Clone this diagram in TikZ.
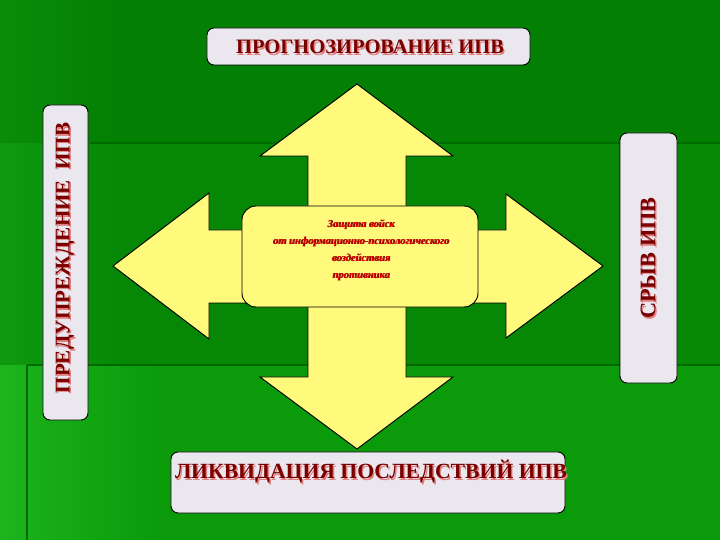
\documentclass[tikz,border=0pt]{standalone}
\usepackage{fontspec}
\setmainfont{Liberation Serif}
\definecolor{topgreen}{HTML}{037F03}
\definecolor{midgreen}{HTML}{068806}
\definecolor{lowgreen}{HTML}{0A9A0A}
\definecolor{edgegreen}{HTML}{1DB41D}
\definecolor{linegreen}{HTML}{006A00}
\definecolor{boxgray}{HTML}{EAE8EE}
\definecolor{pale}{HTML}{FFF97C}
\definecolor{darkred}{HTML}{7A0000}
\definecolor{shred}{HTML}{E08080}
\definecolor{txtred}{HTML}{D80000}
\definecolor{shdark}{HTML}{700000}
\tikzset{bx/.style = {draw=black, line width=0.8pt, fill=boxgray, rounded corners=6pt, inner sep=0pt},
         ttl/.style = {font=\fontsize{17.5}{20}\selectfont\bfseries, text=darkred, inner sep=0pt},
         sh/.style = {text=shred, xshift=1.2pt, yshift=-1.2pt},
         core/.style = {draw=black, line width=0.8pt, fill=pale, rounded corners=12pt, inner sep=0pt},
         ct/.style = {font=\fontsize{9}{14.5}\selectfont\bfseries\itshape, align=center, inner sep=0pt}}

\begin{document}
\begin{tikzpicture}[x=0.03cm, y=-0.03cm]
    \useasboundingbox (0,0) rectangle (720,540);
    \fill[topgreen] (0,0) rectangle (720,143);
    \fill[midgreen] (0,143) rectangle (720,365);
    \fill[lowgreen] (0,365) rectangle (720,540);
    \shade[left color=edgegreen, right color=lowgreen] (0,365) rectangle (160,540);
    \shade[left color=edgegreen!40!midgreen, right color=midgreen] (0,143) rectangle (120,365);
    \shade[left color=edgegreen!25!topgreen, right color=topgreen] (0,0) rectangle (120,143);
    \draw[linegreen, line width=1.5pt] (90,143) -- (720,143);
    \draw[linegreen, line width=1.5pt] (27,365) -- (720,365);
    \draw[linegreen, line width=1.5pt] (27,365) -- (27,540);
    \filldraw[fill=pale, draw=black, line width=0.8pt]
        (357,84) -- (453,156) -- (406,156) -- (406,230) -- (506,230) -- (506,194)
        -- (603,266) -- (506,338) -- (506,303) -- (406,303) -- (406,377) -- (453,377)
        -- (357,449) -- (260,377) -- (308,377) -- (308,303) -- (209,303) -- (209,339)
        -- (113,266) -- (209,193) -- (209,230) -- (308,230) -- (308,156) -- (260,156) -- cycle;
    \node[core, minimum width=7.08cm, minimum height=3.03cm] (mid) at (360,256.5) {};
    \node[ct, text=shdark, xshift=0.6pt, yshift=-0.6pt] at (361,250) {Защита войск\\от информационно-психологического\\воздействия\\противника};
    \node[ct, text=txtred] (midt) at (361,250) {Защита войск\\от информационно-психологического\\воздействия\\противника};
    \node[bx, minimum width=9.69cm, minimum height=1.11cm] (prog) at (368.5,46.5) {};
    \node[ttl, sh] at (370,47) {ПРОГНОЗИРОВАНИЕ ИПВ};
    \node[ttl] (progt) at (370,47) {ПРОГНОЗИРОВАНИЕ ИПВ};
    \node[bx, minimum width=1.35cm, minimum height=9.45cm] (warn) at (65.5,262.5) {};
    \node[ttl, sh, rotate=90, font=\fontsize{18}{20}\selectfont\bfseries] at (65,258) {ПРЕДУПРЕЖДЕНИЕ\ \ ИПВ};
    \node[ttl, rotate=90, font=\fontsize{18}{20}\selectfont\bfseries] (warnt) at (65,258) {ПРЕДУПРЕЖДЕНИЕ\ \ ИПВ};
    \node[bx, minimum width=1.71cm, minimum height=7.5cm] (fail) at (648.5,258) {};
    \node[ttl, sh, rotate=90, font=\fontsize{19}{20}\selectfont\bfseries] at (648,258) {СРЫВ ИПВ};
    \node[ttl, rotate=90, font=\fontsize{19}{20}\selectfont\bfseries] (failt) at (648,258) {СРЫВ ИПВ};
    \node[bx, minimum width=11.82cm, minimum height=1.83cm] (liq) at (368,482.5) {};
    \node[ttl, sh, font=\fontsize{18.5}{20}\selectfont\bfseries] at (371,472) {ЛИКВИДАЦИЯ ПОСЛЕДСТВИЙ ИПВ};
    \node[ttl, font=\fontsize{18.5}{20}\selectfont\bfseries] (liqt) at (371,472) {ЛИКВИДАЦИЯ ПОСЛЕДСТВИЙ ИПВ};
\end{tikzpicture}
\end{document}
